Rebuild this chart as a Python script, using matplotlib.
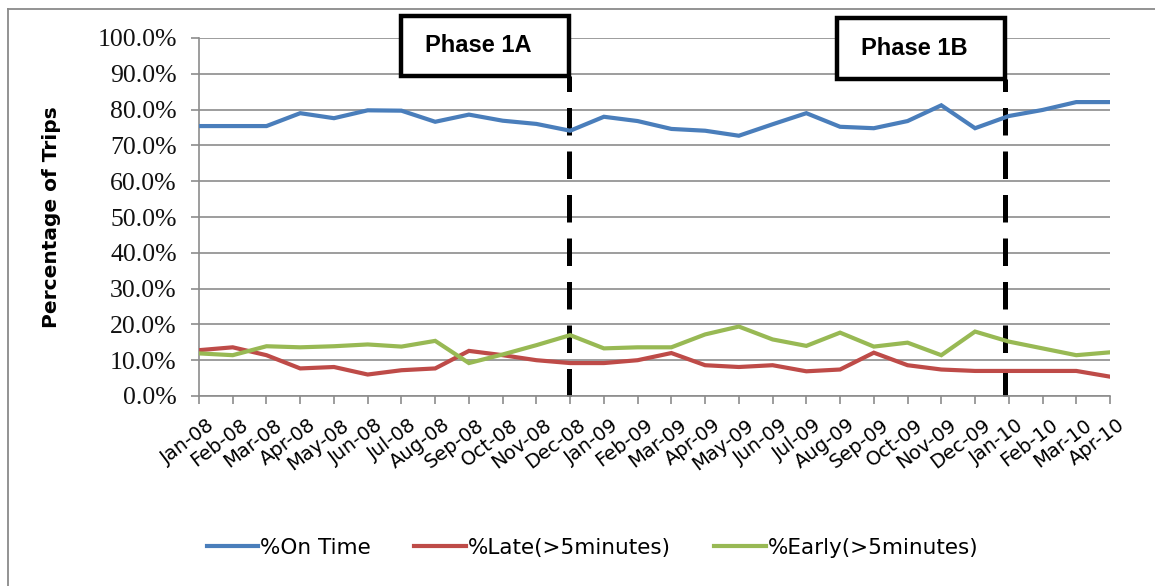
import matplotlib
matplotlib.use("Agg")
import matplotlib.pyplot as plt
from matplotlib.patches import Rectangle
from matplotlib.lines import Line2D
import matplotlib.transforms as mtransforms

months = ["Jan-08", "Feb-08", "Mar-08", "Apr-08", "May-08", "Jun-08", "Jul-08",
          "Aug-08", "Sep-08", "Oct-08", "Nov-08", "Dec-08", "Jan-09", "Feb-09",
          "Mar-09", "Apr-09", "May-09", "Jun-09", "Jul-09", "Aug-09", "Sep-09",
          "Oct-09", "Nov-09", "Dec-09", "Jan-10", "Feb-10", "Mar-10", "Apr-10"]

on_time = [75.4, 75.4, 75.4, 79.0, 77.6, 79.8, 79.7, 76.6, 78.6, 76.9, 76.0, 74.1,
           78.0, 76.8, 74.6, 74.1, 72.7, 75.9, 79.0, 75.2, 74.8, 76.8, 81.2, 74.8,
           78.2, 79.9, 82.1, 82.1]
late = [12.8, 13.6, 11.4, 7.7, 8.1, 6.0, 7.2, 7.7, 12.6, 11.4, 10.0, 9.2,
        9.2, 10.0, 12.0, 8.6, 8.1, 8.6, 6.9, 7.4, 12.1, 8.6, 7.4, 7.0,
        7.0, 7.0, 7.0, 5.4]
early = [11.9, 11.4, 13.9, 13.6, 13.9, 14.4, 13.8, 15.4, 9.2, 11.6, 14.2, 17.0,
         13.3, 13.6, 13.6, 17.2, 19.4, 15.8, 14.0, 17.7, 13.8, 14.9, 11.4, 18.0,
         15.2, 13.3, 11.4, 12.2]

series_names = ["%On Time", "%Late(>5minutes)", "%Early(>5minutes)"]
series_colors = ["#4A7EBB", "#BE4B48", "#98B954"]

phase_labels = ["Phase 1A", "Phase 1B"]
phase_box_x = [(6.0, 10.97), (18.9, 23.9)]   # category index span of box
phase_box_y = [(89.4, 106.2), (88.5, 105.6)]  # percent span of box

W, H = 1155, 586
fig = plt.figure(figsize=(W / 100, H / 100), dpi=100)
fig.patch.set_facecolor("white")

# outer chart border (left and top visible)
fig.add_artist(Line2D([8 / W, 8 / W], [0, 1 - 9 / H], transform=fig.transFigure,
                      color="#8a8a8a", lw=1.3))
fig.add_artist(Line2D([8 / W, 1], [1 - 9 / H, 1 - 9 / H], transform=fig.transFigure,
                      color="#8a8a8a", lw=1.3))

ax = fig.add_axes([199 / W, (H - 396) / H, (1110 - 199) / W, (396 - 38) / H])
x = list(range(len(months)))

grid_col = "#8c8c8c"
ax.set_ylim(0, 100)
ax.set_xlim(0, len(months) - 1)
ax.set_yticks(range(0, 101, 10))
ax.set_yticklabels([f"{v:.1f}%" for v in range(0, 101, 10)])
ax.yaxis.grid(True, color=grid_col, lw=1.2)
ax.set_axisbelow(True)
for s in ["top", "right"]:
    ax.spines[s].set_visible(False)
for s in ["left", "bottom"]:
    ax.spines[s].set_color(grid_col)
    ax.spines[s].set_linewidth(1.2)
ax.tick_params(axis="y", length=6, color=grid_col, width=1.2, pad=10)
ax.tick_params(axis="x", length=6, color=grid_col, width=1.2, pad=4)

ax.set_xticks(x)
ax.set_xticklabels(months)

for lbl in ax.get_yticklabels():
    lbl.set_fontfamily(["Liberation Serif", "DejaVu Serif"])
    lbl.set_fontsize(18.5)
    lbl.set_color("#111111")

offset = mtransforms.ScaledTranslation(13 / 100, -13 / 100, fig.dpi_scale_trans)
for lbl in ax.get_xticklabels():
    lbl.set_fontfamily("DejaVu Sans")
    lbl.set_fontsize(14)
    lbl.set_rotation(37)
    lbl.set_ha("right")
    lbl.set_va("center")
    lbl.set_rotation_mode("anchor")
    lbl.set_transform(lbl.get_transform() + offset)

ax.set_ylabel("Percentage of Trips", fontsize=14.5, fontweight="bold",
              family="DejaVu Sans")
ax.yaxis.set_label_coords(-0.152, 0.5)

# phase markers
for (x0, x1), (y0, y1), lab in zip(phase_box_x, phase_box_y, phase_labels):
    ax.plot([x1, x1], [0, y0], color="black", lw=3.6, dashes=(5.5, 3.2),
            clip_on=False, zorder=2, solid_capstyle="butt")
    ax.add_patch(Rectangle((x0, y0), x1 - x0, y1 - y0, facecolor="white",
                           edgecolor="black", lw=3.2, clip_on=False, zorder=5))
    ax.text((x0 + x1) / 2 - 0.2, (y0 + y1) / 2, lab, ha="center", va="center",
            fontsize=17, fontweight="bold", family="Liberation Sans", zorder=6)

for vals, name, col in zip([on_time, late, early], series_names, series_colors):
    ax.plot(x, vals, color=col, lw=3.0, label=name, zorder=3,
            solid_joinstyle="miter")

handles = [Line2D([], [], color=c, lw=3.0) for c in series_colors]
fig.legend(handles, series_names, loc="center", bbox_to_anchor=(0.513, 0.065),
           ncol=3, frameon=False, handlelength=2.4,
           handletextpad=0.1, columnspacing=2.0,
           prop={"family": "DejaVu Sans", "size": 15.5})

fig.savefig("out.png", dpi=100, facecolor="white")
